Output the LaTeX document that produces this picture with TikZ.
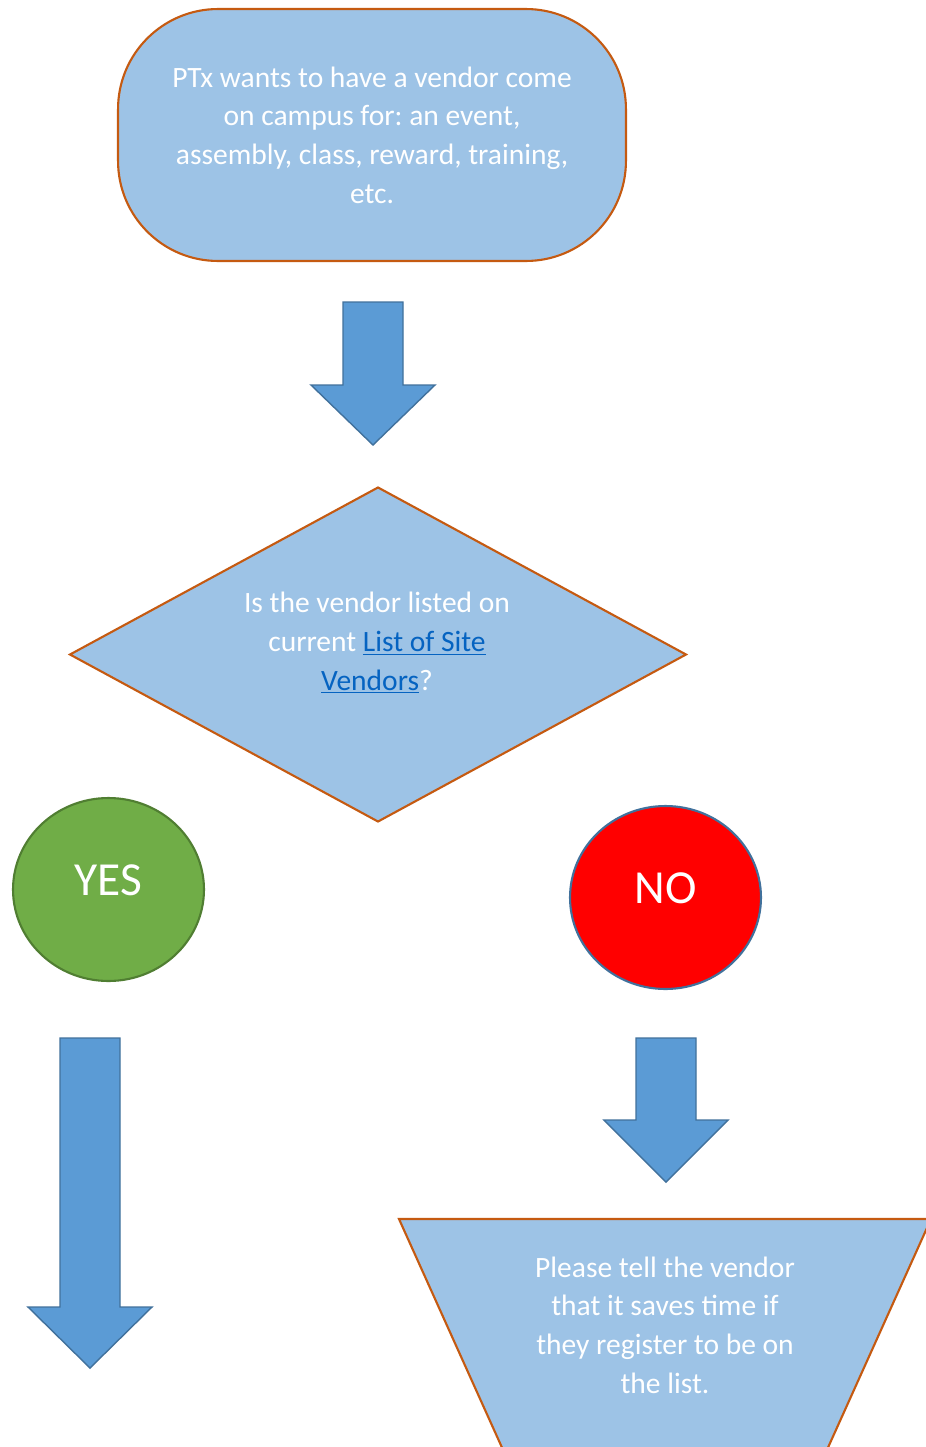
\documentclass[tikz,border=0pt]{standalone}
\usepackage{fontspec}
\setmainfont{Carlito}
\frenchspacing
\usetikzlibrary{shapes.geometric, positioning}

\definecolor{boxfill}{HTML}{9DC3E6}
\definecolor{boxedge}{HTML}{C55A11}
\definecolor{arrowblue}{HTML}{5B9BD5}
\definecolor{arrowedge}{HTML}{41719C}
\definecolor{yesgreen}{HTML}{70AD47}
\definecolor{yesedge}{HTML}{507E32}
\definecolor{linkblue}{HTML}{0563C1}

\tikzset{
  flowbox/.style={draw=boxedge, fill=boxfill, line width=1.2pt, text=white, align=center,
                  font=\fontsize{16.8}{22}\selectfont, inner sep=0pt},
  flowtext/.style={text=white, align=center, font=\fontsize{16.8}{22}\selectfont},
  bigarrow/.style={draw=arrowedge, fill=arrowblue, line width=0.8pt},
  answer/.style={ellipse, line width=1.2pt, text=white, inner sep=0pt,
                 minimum width=3.82cm, minimum height=3.66cm, font=\fontsize{27}{32}\selectfont},
}
% block arrow pointing down: x, top, neck, tip
\newcommand{\blockdown}[4]{%
  \draw[bigarrow] (#1-30,#2) -- (#1+30,#2) -- (#1+30,#3) -- (#1+62,#3) -- (#1,#4)
                  -- (#1-62,#3) -- (#1-30,#3) -- cycle;}
\newcommand{\answertext}[1]{\raisebox{-0.11cm}[0pt][0pt]{#1}}

\begin{document}
\begin{tikzpicture}[x=0.02cm, y=-0.02cm]
\clip (0,0) rectangle (926,1447);
\fill[white] (0,0) rectangle (926,1447);

\node[flowbox, rectangle, rounded corners=2cm, minimum width=10.16cm, minimum height=5.04cm]
  (start) at (372,135) {PTx wants to have a vendor come\\ on campus for: an event,\\
  assembly, class, reward, training,\\ etc.};

\blockdown{373}{302}{385}{445}

\node[flowbox, diamond, aspect=1.84, minimum width=12.34cm, minimum height=6.7cm]
  (listed) at (378,654.5) {};
\node[flowtext] (listedtext) at (377,643) {Is the vendor listed on\\
  current \textcolor{linkblue}{\underline{List of Site}}\\
  \textcolor{linkblue}{\underline{Vendors}}?};

\node[answer, fill=yesgreen, draw=yesedge] (yes) at (108.5,889.5) {\answertext{YES}};
\node[answer, fill=red, draw=arrowedge] (no) at (665.5,897.5) {\answertext{NO}};

\blockdown{90}{1038}{1307}{1368}
\blockdown{666}{1038}{1120}{1182}

\draw[flowbox] (399,1219) -- (931,1219) -- (826,1452) -- (504,1452) -- cycle;
\node[flowtext] (tell) at (665,1325)
  {Please tell the vendor\\ that it saves time if\\ they register to be on\\ the list.};
\end{tikzpicture}
\end{document}
